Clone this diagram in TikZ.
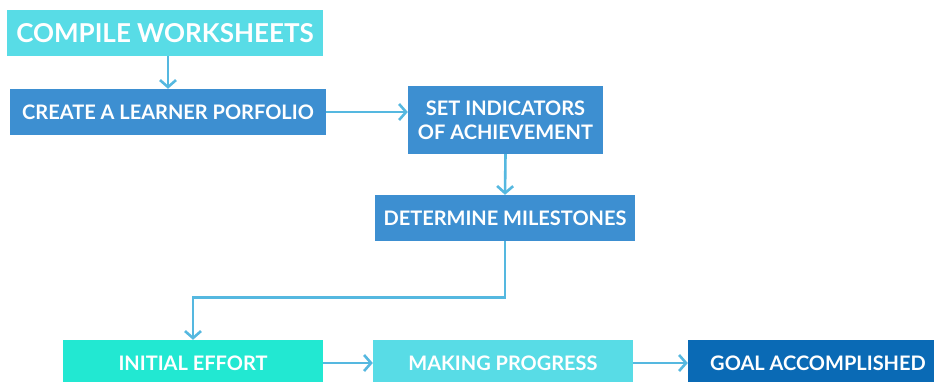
\documentclass[tikz,border=0pt]{standalone}
\usepackage{fontspec}
\setmainfont{Lato}
\usetikzlibrary{arrows.meta}

\definecolor{tealbox}{HTML}{58DCE6}
\definecolor{bluebox}{HTML}{3D8FD1}
\definecolor{greenbox}{HTML}{22E8D2}
\definecolor{navybox}{HTML}{0A6AB5}
\definecolor{linkcol}{HTML}{55B8E0}

\begin{document}
\begin{tikzpicture}[x=1pt, y=-1pt,
	box/.style={inner sep=0pt, text=white, font=\bfseries\fontsize{20}{24}\selectfont, align=center, minimum height=46pt},
	link/.style={draw=linkcol, line width=2.6pt, -{Straight Barb[length=7pt, width=16pt, line width=2.6pt]}}]
	\clip (0,0) rectangle (934,381);
	\fill[white] (0,0) rectangle (934,381);

	\node[box, fill=tealbox, minimum width=316pt, font=\bfseries\fontsize{26}{28}\selectfont] (cw) at (165,33) {COMPILE WORKSHEETS};
	\node[box, fill=bluebox, minimum width=316pt] (clp) at (168,112) {CREATE A LEARNER PORFOLIO};
	\node[box, fill=bluebox, minimum width=195pt, minimum height=68pt] (sia) at (505.5,120) {SET INDICATORS\\OF ACHIEVEMENT};
	\node[box, fill=bluebox, minimum width=260pt] (dm) at (505,218) {DETERMINE MILESTONES};

	\node[box, fill=greenbox, minimum width=260pt] (ie) at (193,363) {INITIAL EFFORT};
	\node[box, fill=tealbox, minimum width=260pt] (mp) at (503,363) {MAKING PROGRESS};
	\node[box, fill=navybox, minimum width=260pt] (ga) at (818,363) {GOAL ACCOMPLISHED};

	\draw[link] (cw.south -| clp.north) -- (clp.north);
	\draw[link] (clp.east) -- (clp.east -| sia.west);
	\draw[link] (sia.south) -- (dm.north);
	\draw[link] (dm.south) -- ++(0,56) -| (ie.north);
	\draw[link] (ie.east) -- (mp.west);
	\draw[link] (mp.east) -- (ga.west);
\end{tikzpicture}
\end{document}
